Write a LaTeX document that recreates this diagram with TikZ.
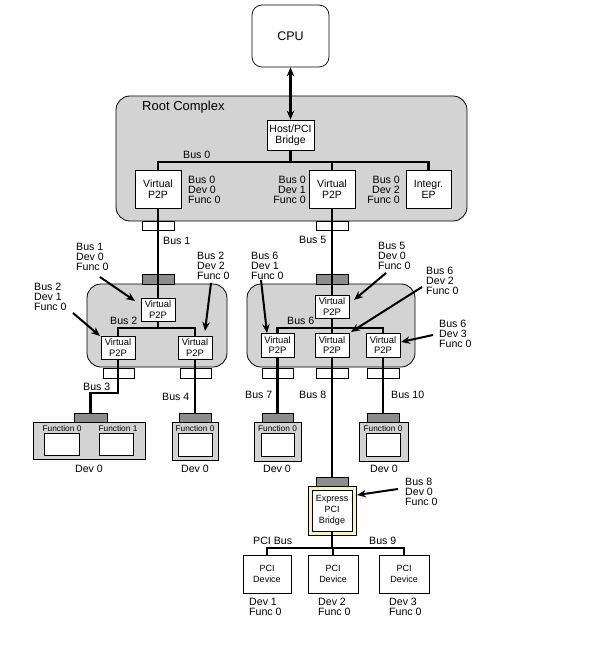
\documentclass[tikz,border=0pt]{standalone}
\usepackage{fontspec}
\setmainfont{Liberation Sans}
\usetikzlibrary{arrows.meta}
\pgfdeclarelayer{back}
\pgfdeclarelayer{mid}
\pgfsetlayers{back,mid,main}
\newcommand\myfs[2]{\fontsize{#1}{#2}\selectfont\lineskiplimit=-20pt}
\newcommand\bx[7]{\node[#1, minimum width={(#5)-(#3)}, minimum height={(#6)-(#4)}] (#2) at ({((#3)+(#5))/2},{((#4)+(#6))/2}) {#7};}
\definecolor{panelgray}{RGB}{211,211,211}
\definecolor{conngray}{RGB}{140,140,140}
\definecolor{bridgey}{RGB}{245,245,185}
\tikzset{
  box/.style={draw, fill=white, line width=0.7pt, inner sep=0pt, align=center, font=\myfs{10.5}{11}},
  sbox/.style={box, font=\myfs{9.4}{10.5}},
  cpubox/.style={box, rounded corners=10pt, font=\myfs{12.5}{13}},
  panel/.style={draw, fill=panelgray, line width=0.8pt, rounded corners=14pt, inner sep=0pt},
  devbox/.style={draw, fill=panelgray, line width=0.7pt, inner sep=0pt},
  conn/.style={draw, fill=conngray, line width=0.6pt, inner sep=0pt},
  port/.style={draw, fill=white, line width=0.6pt, inner sep=0pt},
  bridgebox/.style={draw, fill=bridgey, line width=0.7pt, inner sep=0pt},
  pcibox/.style={draw, fill=white, line width=0.7pt, inner sep=0pt, align=center, font=\myfs{9}{11}},
  bus/.style={line width=2.7pt},
  lbl/.style={inner sep=0pt, font=\myfs{10.6}{9.8}, align=left},
  lblr/.style={lbl, align=right},
  fnl/.style={inner sep=0pt, font=\myfs{8.3}{9}},
  call/.style={line width=2pt, -{Stealth[length=9pt,width=7.5pt]}},
  cpuarrow/.style={line width=2.2pt, {Stealth[length=9pt,width=7.5pt]}-{Stealth[length=9pt,width=7.5pt]}},
}
\begin{document}
\begin{tikzpicture}[x=1pt,y=-1pt]
\useasboundingbox (0,0) rectangle (597,652);

\coordinate (b0) at (0,162);
\coordinate (b2) at (0,328);
\coordinate (b3) at (0,393);
\coordinate (b6) at (0,328);
\coordinate (b9) at (0,548);

% ---------- boxes with text ----------
\bx{cpubox}{cpu}{252}{5}{329}{67}{CPU}
\bx{box}{hb}{267}{120}{314}{150}{Host/PCI\\Bridge}
\bx{box}{vl}{135}{170}{181}{208}{Virtual\\P2P}
\bx{box}{vm}{309}{170}{355}{208}{Virtual\\P2P}
\bx{box}{ep}{406}{170}{451}{208}{Integr.\\EP}
\bx{sbox}{s1u}{141}{298}{175}{321}{Virtual\\P2P}
\bx{sbox}{s1l}{101}{336}{135}{359}{Virtual\\P2P}
\bx{sbox}{s1r}{178}{336}{212}{359}{Virtual\\P2P}
\bx{sbox}{s2u}{315}{295}{349}{318}{Virtual\\P2P}
\bx{sbox}{s2a}{261}{333}{294}{357}{Virtual\\P2P}
\bx{sbox}{s2b}{315}{333}{349}{357}{Virtual\\P2P}
\bx{sbox}{s2c}{366}{333}{400}{357}{Virtual\\P2P}
\bx{pcibox}{br}{312}{490}{352}{531}{Express\\PCI\\Bridge}
\bx{pcibox}{pd1}{243}{555}{291}{593}{PCI\\Device}
\bx{pcibox}{pd2}{308}{555}{358}{593}{PCI\\Device}
\bx{pcibox}{pd3}{379}{555}{429}{593}{PCI\\Device}

\begin{pgfonlayer}{back}
\fill[white] (0,0) rectangle (597,652);
% root complex and switch panels
\bx{panel}{rc}{116}{96}{467}{221}{}
\bx{panel}{sw1}{87}{284}{227}{367}{}
\bx{panel}{sw2}{247}{284}{415}{367}{}
% ports and connectors
\bx{port}{p1}{142}{221}{174}{230}{}
\bx{port}{p5}{316}{221}{348}{230}{}
\bx{conn}{c1}{142}{274}{174}{284}{}
\bx{conn}{c2}{316}{274}{348}{284}{}
\bx{port}{p3}{103}{368}{134}{378}{}
\bx{port}{p4}{180}{368}{211}{378}{}
\bx{port}{p7}{262}{368}{293}{378}{}
\bx{port}{p8}{316}{368}{348}{378}{}
\bx{port}{p10}{367}{368}{399}{378}{}
% end devices
\bx{conn}{c3}{74}{413}{107}{422}{}
\bx{devbox}{d3}{33}{422}{145}{459}{}
\bx{port}{f30}{44}{433}{79}{455}{}
\bx{port}{f31}{99}{433}{133}{455}{}
\bx{conn}{c4}{179}{413}{211}{422}{}
\bx{devbox}{d4}{172}{422}{218}{460}{}
\bx{port}{f4}{178}{433}{212}{456}{}
\bx{conn}{c7}{262}{413}{293}{422}{}
\bx{devbox}{d7}{254}{422}{301}{461}{}
\bx{port}{f7}{261}{433}{294}{456}{}
\bx{conn}{c10}{367}{413}{399}{422}{}
\bx{devbox}{d10}{359}{422}{408}{461}{}
\bx{port}{f10}{366}{433}{400}{456}{}
% express bridge frame
\bx{conn}{cb}{316}{477}{348}{486}{}
\bx{bridgebox}{bro}{308}{486}{356}{535}{}
\end{pgfonlayer}

\node[inner sep=0pt, anchor=north west, font=\myfs{13}{14}] (rct) at (142,101) {Root Complex};
\node[fnl] (f30t) at (62,428.5) {Function 0};
\node[fnl] (f31t) at (118,428.5) {Function 1};
\node[fnl] (f4t) at (195,428.5) {Function 0};
\node[fnl] (f7t) at (277.5,428.5) {Function 0};
\node[fnl] (f10t) at (383,428.5) {Function 0};

% ---------- bus lines ----------
\begin{pgfonlayer}{mid}
\draw[bus] (vl.north) -- (vl.north |- b0) -- (ep.north |- b0) -- (ep.north);
\draw[bus] (hb.south) -- (hb.south |- b0);
\draw[bus] (vm.north) -- (vm.north |- b0);
\draw[bus] (vl.south) -- (s1u.north);
\draw[bus] (vm.south) -- (s2u.north);
\draw[bus] (s1u.south) -- (s1u.south |- b2);
\draw[bus] (s1l.north) -- (s1l.north |- b2) -- (s1r.north |- b2) -- (s1r.north);
\draw[bus] (s2a.north) -- (s2a.north |- b6) -- (s2c.north |- b6) -- (s2c.north);
\draw[bus] (s2u.south) -- (s2b.north);
\draw[bus] (s1l.south) -- (s1l.south |- b3) -- (c3.north |- b3) -- (c3.north);
\draw[bus] (s1r.south) -- (s1r.south |- c4.north);
\draw[bus] (s2a.south) -- (s2a.south |- c7.north);
\draw[bus] (s2c.south) -- (s2c.south |- c10.north);
\draw[bus] (s2b.south) -- (s2b.south |- cb.north);
\draw[bus] (br.south) -- (br.south |- b9);
\draw[bus] (pd1.north) -- (pd1.north |- b9) -- (pd3.north |- b9) -- (pd3.north);
\draw[bus] (pd2.north) -- (pd2.north |- b9);
\end{pgfonlayer}

% CPU arrow
\draw[cpuarrow] (cpu.south) -- (hb.north);

% ---------- labels ----------
\node[lbl, anchor=north west] (lbus0) at (183,151) {Bus 0};
\node[lbl, anchor=north west] (lb0a) at (188,176) {Bus 0\\Dev 0\\Func 0};
\node[lblr, anchor=north east] (lb0b) at (306,176) {Bus 0\\Dev 1\\Func 0};
\node[lblr, anchor=north east] (lb0c) at (400,176) {Bus 0\\Dev 2\\Func 0};
\node[lbl, anchor=north west] (lbus1) at (163,237) {Bus 1};
\node[lbl, anchor=north west] (lbus5) at (299,236) {Bus 5};

\node[lbl, anchor=north west] (l1) at (76,243) {Bus 1\\Dev 0\\Func 0};
\node[lbl, anchor=north west] (l2) at (197,252) {Bus 2\\Dev 2\\Func 0};
\node[lbl, anchor=north west] (l3) at (34,283) {Bus 2\\Dev 1\\Func 0};
\node[lbl, anchor=north west] (lbus2) at (110,317) {Bus 2};

\node[lbl, anchor=north west] (l4) at (251,252) {Bus 6\\Dev 1\\Func 0};
\node[lbl, anchor=north west] (l5) at (378,242) {Bus 5\\Dev 0\\Func 0};
\node[lbl, anchor=north west] (l6) at (426,267) {Bus 6\\Dev 2\\Func 0};
\node[lbl, anchor=north west] (l7) at (439,320) {Bus 6\\Dev 3\\Func 0};
\node[lbl, anchor=north west] (lbus6) at (287,317) {Bus 6};

\node[lbl, anchor=north west] (lbus3) at (83,383) {Bus 3};
\node[lbl, anchor=north west] (lbus4) at (162,393) {Bus 4};
\node[lbl, anchor=north west] (lbus7) at (245,391) {Bus 7};
\node[lbl, anchor=north west] (lbus8) at (299,391) {Bus 8};
\node[lbl, anchor=north west] (lbus10) at (391,391) {Bus 10};

\node[lbl, anchor=north] (dv3) at (89,465) {Dev 0};
\node[lbl, anchor=north] (dv4) at (195,465) {Dev 0};
\node[lbl, anchor=north] (dv7) at (277,465) {Dev 0};
\node[lbl, anchor=north] (dv10) at (384,465) {Dev 0};

\node[lbl, anchor=north west] (l8) at (405,478) {Bus 8\\Dev 0\\Func 0};
\node[lbl, anchor=north west] (lpci) at (253,537) {PCI Bus};
\node[lbl, anchor=north west] (lbus9) at (369,537) {Bus 9};
\node[lbl, anchor=north west] (ld1) at (249,598) {Dev 1\\Func 0};
\node[lbl, anchor=north west] (ld2) at (318,598) {Dev 2\\Func 0};
\node[lbl, anchor=north west] (ld3) at (389,598) {Dev 3\\Func 0};

% ---------- callout arrows ----------
\coordinate (a1s) at (100,277); \coordinate (a1e) at (135,301);
\coordinate (a2s) at (211,283); \coordinate (a2e) at (205,331);
\coordinate (a3s) at (73,313);  \coordinate (a3e) at (100,336);
\coordinate (a4s) at (261,280); \coordinate (a4e) at (267,333);
\coordinate (a5s) at (386,273); \coordinate (a5e) at (354,300);
\coordinate (a6s) at (422,287); \coordinate (a6e) at (351,332);
\coordinate (a7s) at (433,335); \coordinate (a7e) at (401,342);
\coordinate (a8s) at (398,489); \coordinate (a8e) at (357,495);
\draw[call] (a1s) -- (a1e);
\draw[call] (a2s) -- (a2e);
\draw[call] (a3s) -- (a3e);
\draw[call] (a4s) -- (a4e);
\draw[call] (a5s) -- (a5e);
\draw[call] (a6s) -- (a6e);
\draw[call] (a7s) -- (a7e);
\draw[call] (a8s) -- (a8e);
\end{tikzpicture}
\end{document}
